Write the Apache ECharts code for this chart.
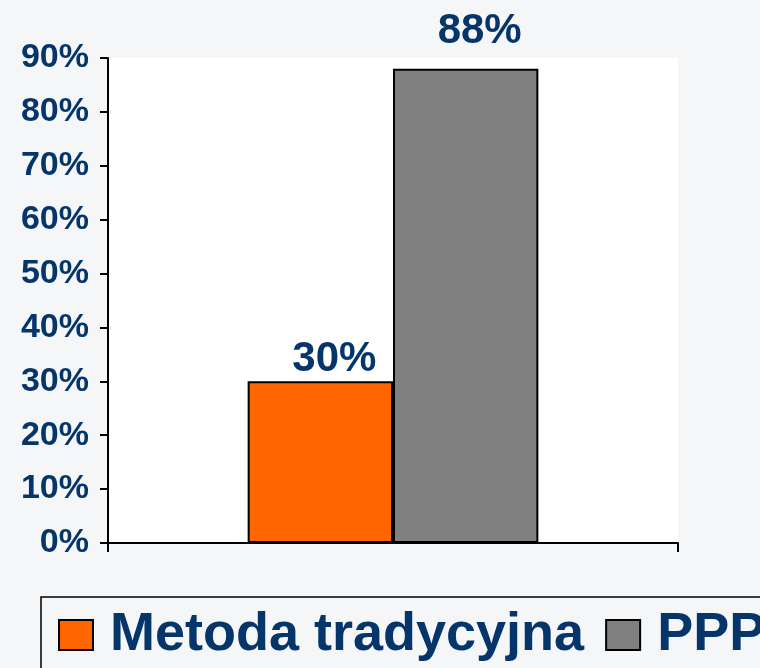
<!DOCTYPE html>
<html>
<head>
<meta charset="utf-8">
<script src="https://cdn.jsdelivr.net/npm/echarts@6/dist/echarts.min.js"></script>
<style>html,body{margin:0;padding:0;background:#f5f6f8;}#c{width:760px;height:668px;}</style>
</head>
<body>
<div id="c"></div>
<script>
var categories = [''];
var seriesNames = ['Metoda tradycyjna', 'PPP'];
var seriesValues = [[30], [88]];
var seriesColors = ['#ff6600', '#808080'];
var labelDistances = [1, 16];
var yTicks = [0, 10, 20, 30, 40, 50, 60, 70, 80, 90];

var textColor = '#06356a';
var font = 'Liberation Sans, Arial, sans-serif';

var chart = echarts.init(document.getElementById('c'));
var series = seriesNames.map(function (name, i) {
  return {
    name: name,
    type: 'bar',
    barGap: '0%',
    barCategoryGap: '49%',
    itemStyle: { color: seriesColors[i], borderColor: '#000', borderWidth: 2 },
    label: {
      show: true,
      position: 'top',
      distance: labelDistances[i],
      offset: [14, 0],
      formatter: '{c}%',
      color: textColor,
      fontFamily: font,
      fontWeight: 'bold',
      fontSize: 42
    },
    data: seriesValues[i]
  };
});

chart.setOption({
  backgroundColor: '#f5f6f8',
  animation: false,
  grid: { left: 108, right: 82, top: 58, bottom: 125, show: true, backgroundColor: '#ffffff', borderWidth: 0 },
  xAxis: {
    type: 'category',
    data: categories,
    axisLine: { lineStyle: { color: '#000', width: 2 } },
    axisTick: { show: true, length: 9, lineStyle: { color: '#000', width: 2 } },
    axisLabel: { show: false },
    splitLine: { show: false }
  },
  yAxis: {
    type: 'value',
    min: yTicks[0],
    max: yTicks[yTicks.length - 1],
    interval: 10,
    axisLine: { show: true, lineStyle: { color: '#000', width: 2 } },
    axisTick: { show: true, length: 8, lineStyle: { color: '#000', width: 2 } },
    splitLine: { show: false },
    axisLabel: {
      margin: 19,
      formatter: '{value}%',
      color: textColor,
      fontFamily: font,
      fontWeight: 'bold',
      fontSize: 34
    }
  },
  legend: {
    left: 41,
    top: 597,
    width: 1400,
    orient: 'horizontal',
    padding: [11, 120, 30, 17],
    borderColor: '#000',
    borderWidth: 1.5,
    itemGap: 21,
    itemWidth: 34,
    itemHeight: 30,
    icon: 'rect',
    data: seriesNames,
    textStyle: {
      color: textColor,
      fontFamily: font,
      fontWeight: 'bold',
      fontSize: 54,
      padding: [0, 0, 0, 12]
    }
  },
  series: series
});
</script>
</body>
</html>
